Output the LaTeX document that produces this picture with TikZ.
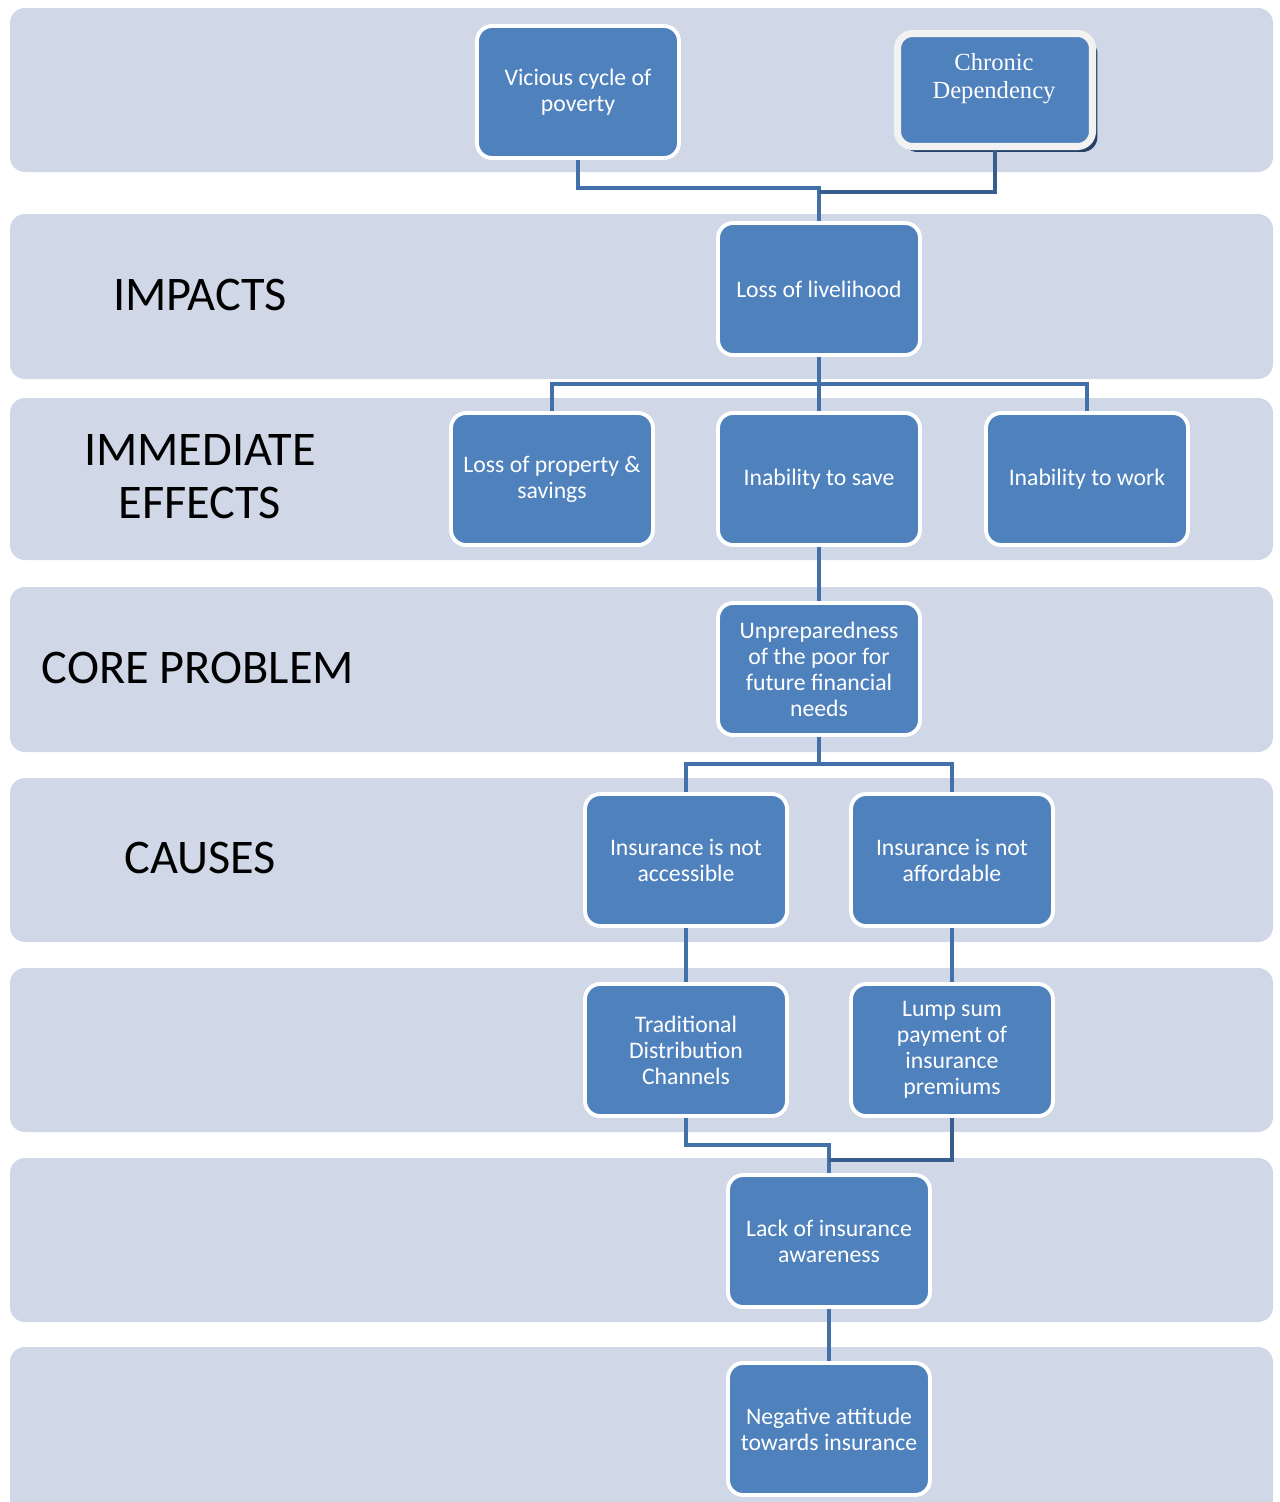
\documentclass[tikz,border=0pt]{standalone}
\usepackage{fontspec}
\setmainfont{Carlito}
\newfontfamily\timesfont{Liberation Serif}
\usetikzlibrary{shadows}

\definecolor{bandgray}{RGB}{208,216,232}
\definecolor{boxblue}{RGB}{79,129,189}
\definecolor{linkblue}{RGB}{67,112,168}
\definecolor{linkdark}{RGB}{56,94,143}
\definecolor{chronicrim}{RGB}{242,242,242}
\definecolor{chronicshade}{RGB}{38,66,104}

\begin{document}
\begin{tikzpicture}[x=0.02cm, y=-0.02cm,
  box/.style={draw=white, line width=2.2pt, fill=boxblue, rounded corners=0.3cm,
    minimum width=4.04cm, minimum height=2.64cm, align=center, text=white,
    inner sep=2pt, font=\fontsize{13.5}{14.8}\selectfont},
  link/.style={draw=linkblue, line width=2.8pt},
  linkdk/.style={draw=linkdark, line width=2.8pt},
  level/.style={font=\fontsize{27.5}{30}\selectfont, align=center, text=black}]
\useasboundingbox (0,0) rectangle (1280,1502);

% bands
\foreach \top/\bot in {8/172, 214/379, 398/560, 587/752, 778/942, 968/1132, 1158/1322, 1347/1530}
  \fill[bandgray, rounded corners=0.3cm] (10,\top) rectangle (1273,\bot);

% level names
\node[level] (impacts) at (200,295) {IMPACTS};
\node[level] (effects) at (200,477) {IMMEDIATE\\EFFECTS};
\node[level] (core) at (198,668) {CORE PROBLEM};
\node[level] (causes) at (200,858) {CAUSES};

\begin{scope}[every node/.style={box}]
\node (vicious) at (578,92) {Vicious cycle of\\poverty};
\node (livelihood) at (819,289) {Loss of livelihood};
\node (property) at (552,479) {Loss of property \&\\savings};
\node (save) at (819,479) {Inability to save};
\node (work) at (1087,479) {Inability to work};
\node (unprep) at (819,669) {Unpreparedness\\of the poor for\\future financial\\needs};
\node (access) at (686,860) {Insurance is not\\accessible};
\node (afford) at (952,860) {Insurance is not\\affordable};
\node (traditional) at (686,1050) {Traditional\\Distribution\\Channels};
\node (lump) at (952,1050) {Lump sum\\payment of\\insurance\\premiums};
\node (lack) at (829,1241) {Lack of insurance\\awareness};
\node (negative) at (829,1429) {Negative attitude\\towards insurance};
\end{scope}

\node[draw=chronicrim, line width=4pt, fill=boxblue, rounded corners=0.3cm,
  minimum width=3.9cm, minimum height=2.26cm,
  drop shadow={shadow xshift=0.1cm, shadow yshift=-0.11cm, fill=chronicshade, opacity=1}]
  (chronic) at (995,90) {};
\node[text=white, align=center, font=\timesfont\fontsize{14}{16}\selectfont]
  (chronictext) at (994,79) {Chronic\\Dependency};

% junctions
\coordinate (j1) at (819,188);
\coordinate (j2) at (819,192);
\coordinate (j3) at (819,384);
\coordinate (j4) at (819,764);
\coordinate (j5) at (829,1145);
\coordinate (j6) at (829,1160);

\draw[link] (vicious.south) |- (j1) -- (livelihood.north);
\draw[linkdk] (chronic.south) |- (j2);
\draw[link] (livelihood.south) -- (save.north);
\draw[link] (property.north) |- (j3) -| (work.north);
\draw[link] (save.south) -- (unprep.north);
\draw[link] (unprep.south) -- (j4);
\draw[link] (access.north) |- (j4) -| (afford.north);
\draw[link] (access.south) -- (traditional.north);
\draw[link] (afford.south) -- (lump.north);
\draw[link] (traditional.south) |- (j5) -- (lack.north);
\draw[linkdk] (lump.south) |- (j6);
\draw[link] (lack.south) -- (negative.north);

\end{tikzpicture}
\end{document}
